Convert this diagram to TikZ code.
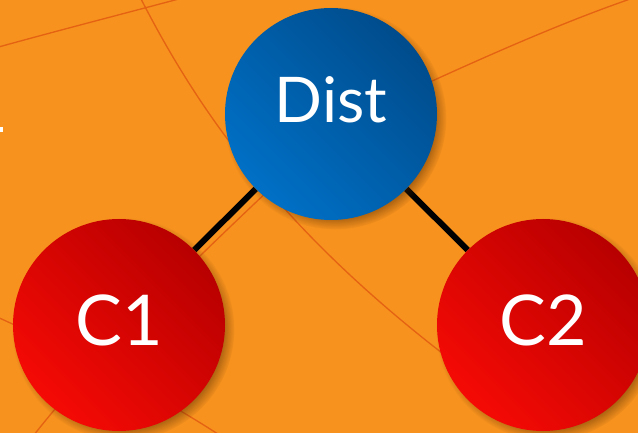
\documentclass[tikz,border=0pt]{standalone}
\usepackage{fontspec}
\setmainfont{Lato}
\usetikzlibrary{shadows,backgrounds}
\definecolor{bgorange}{RGB}{247,146,30}
\definecolor{curveorange}{RGB}{228,98,18}
\definecolor{bluedark}{RGB}{0,76,140}
\definecolor{bluelight}{RGB}{0,112,198}
\definecolor{reddark}{RGB}{184,0,0}
\definecolor{redlight}{RGB}{245,10,5}
\tikzset{ball/.style={circle, minimum size=212pt, inner sep=0pt, text=white,
  circular drop shadow={shadow xshift=4pt, shadow yshift=-4pt, shadow scale=1.05, opacity=0.6, fill=black!70!orange}}}
\tikzset{dist ball/.style={ball, top color=bluedark, bottom color=bluelight, shading angle=-45,
  font=\fontsize{63}{63}\selectfont, text height=45pt, text depth=27pt}}
\tikzset{client ball/.style={ball, top color=reddark, bottom color=redlight, shading angle=-45,
  font=\fontsize{70}{70}\selectfont, text height=50pt, text depth=10pt}}
\tikzset{bg curve/.style={draw=curveorange, line width=1.3pt}}
\tikzset{link/.style={draw=black, line width=6pt}}

\begin{document}
\begin{tikzpicture}[x=1pt, y=-1pt]
\useasboundingbox (0,0) rectangle (638,433);
\node[dist ball] (dist) at (331,114) {Dist};
\node[client ball] (c1) at (119,325) {C1};
\node[client ball] (c2) at (543,325) {C2};
\begin{scope}[on background layer]
\clip (0,0) rectangle (638,433);
\fill[bgorange] (0,0) rectangle (638,433);
% thin curves in the backdrop
\draw[bg curve] (-5,48) .. controls (60,30) and (130,12) .. (190,-4);
\draw[bg curve] (139,-5) .. controls (210,135) and (310,265) .. (520,410);
\draw[bg curve] (380,105) .. controls (460,68) and (560,22) .. (645,-6);
\draw[bg curve] (290,170) .. controls (200,255) and (100,350) .. (30,440);
\draw[bg curve] (-5,316) .. controls (70,350) and (160,395) .. (230,442);
\fill[white] (0,127) rectangle (3,132);
\draw[link] (dist) -- (c1);
\draw[link] (dist) -- (c2);
\end{scope}
\end{tikzpicture}
\end{document}
